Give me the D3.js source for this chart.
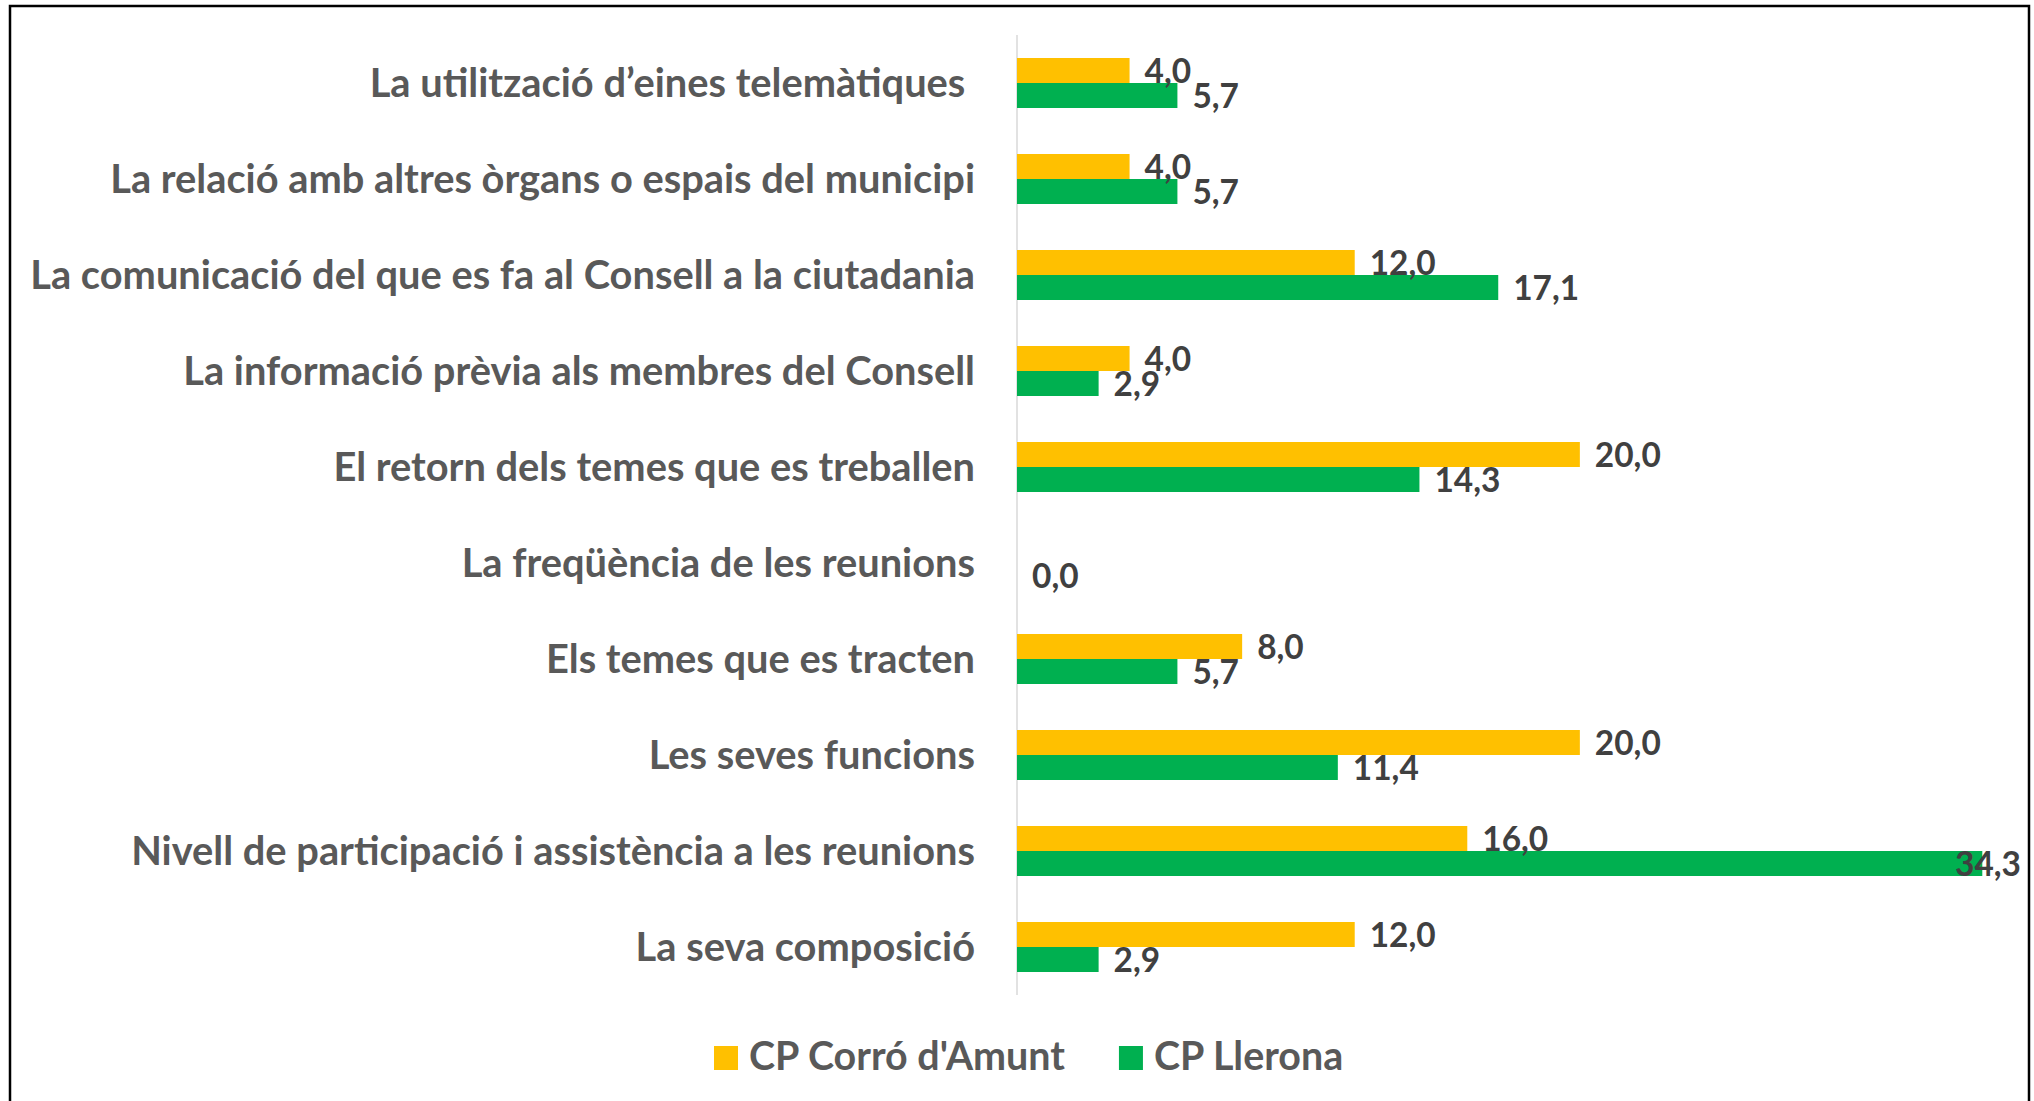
<!DOCTYPE html>
<html>
<head>
<meta charset="utf-8">
<script src="https://cdn.jsdelivr.net/npm/d3@7"></script>
<style>
  html, body { margin: 0; padding: 0; background: #ffffff; }
  svg { display: block; }
  text { font-family: Lato, "Open Sans", sans-serif; font-weight: 700; }
</style>
</head>
<body>
<svg id="chart" width="2034" height="1101"></svg>
<script>
// ---- data ----
const categories = [
  "La utilització d’eines telemàtiques ",
  "La relació amb altres òrgans o espais del municipi",
  "La comunicació del que es fa al Consell a la ciutadania",
  "La informació prèvia als membres del Consell",
  "El retorn dels temes que es treballen",
  "La freqüència de les reunions",
  "Els temes que es tracten",
  "Les seves funcions",
  "Nivell de participació i assistència a les reunions",
  "La seva composició"
];
const seriesNames = ["CP Corró d'Amunt", "CP Llerona"];
const corroAmunt = [4.0, 4.0, 12.0, 4.0, 20.0, null, 8.0, 20.0, 16.0, 12.0];
const llerona    = [5.7, 5.7, 17.1, 2.9, 14.3, 0.0, 5.7, 11.4, 34.3, 2.9];
const seriesColors = ["#FFC000", "#00B050"];

// ---- layout ----
const svg = d3.select("#chart");
const W = 2034, H = 1101;
svg.append("rect").attr("width", W).attr("height", H).attr("fill", "#fff");
svg.append("rect")
  .attr("x", 10).attr("y", 6).attr("width", 2019).attr("height", 1120)
  .attr("fill", "none").attr("stroke", "#000").attr("stroke-width", 2.5);

const x = d3.scaleLinear().domain([0, 35]).range([1017, 2002]);
const y0 = d3.scaleBand().domain(categories).range([35, 995]).paddingInner(0).paddingOuter(0);
const y1 = d3.scaleBand().domain(seriesNames).range([0, y0.bandwidth()]).paddingInner(0).paddingOuter(0.92);

const data = categories.map((c, i) => ({
  cat: c,
  vals: [
    { s: seriesNames[0], v: corroAmunt[i], color: seriesColors[0] },
    { s: seriesNames[1], v: llerona[i], color: seriesColors[1] }
  ]
}));

// helper: fit font-size so a sample text gets a target width
function fitSize(sample, targetW, base) {
  const t = svg.append("text").attr("font-size", base).text(sample);
  const w = t.node().getComputedTextLength();
  t.remove();
  return base * targetW / w;
}
const catSize = fitSize("La comunicació del que es fa al Consell a la ciutadania", 945, 30);
const valSize = fitSize("20,0", 66, 30);
const legSize = fitSize("CP Corró d'Amunt", 316, 30);

// axis line
svg.append("line")
  .attr("x1", x(0)).attr("x2", x(0))
  .attr("y1", y0.range()[0]).attr("y2", y0.range()[1])
  .attr("stroke", "#d9d9d9").attr("stroke-width", 1.5);

// category labels
const yAxis = d3.axisLeft(y0).tickSize(0).tickPadding(0);
const gy = svg.append("g").attr("transform", `translate(975,0)`).call(yAxis);
gy.select(".domain").remove();
gy.selectAll("text")
  .attr("x", 0)
  .attr("dy", "0.36em")
  .attr("text-anchor", "end")
  .attr("fill", "#595959")
  .attr("font-size", catSize)
  .attr("font-family", "Lato, 'Open Sans', sans-serif")
  .attr("font-weight", 700)
  .style("white-space", "pre");

// bars
const groups = svg.append("g").selectAll("g.cat").data(data).join("g")
  .attr("class", "cat")
  .attr("transform", d => `translate(0,${y0(d.cat)})`);

groups.selectAll("rect").data(d => d.vals.filter(v => v.v !== null && v.v > 0)).join("rect")
  .attr("x", x(0))
  .attr("y", d => y1(d.s))
  .attr("width", d => x(d.v) - x(0))
  .attr("height", y1.bandwidth())
  .attr("fill", d => d.color);

// value labels
const rightLimit = 2021;
groups.selectAll("text.val").data(d => d.vals.filter(v => v.v !== null)).join("text")
  .attr("class", "val")
  .attr("font-size", valSize)
  .attr("fill", "#404040")
  .attr("y", d => y1(d.s) + y1.bandwidth() / 2)
  .attr("dy", "0.36em")
  .text(d => d.v.toFixed(1).replace(".", ","))
  .each(function(d) {
    const w = this.getComputedTextLength();
    const px = Math.min(x(d.v) + 15, rightLimit - w);
    d3.select(this).attr("x", px);
  });

// legend
const legend = svg.append("g");
let lx = 714;
seriesNames.forEach((s, i) => {
  legend.append("rect")
    .attr("x", lx).attr("y", 1046).attr("width", 24).attr("height", 24)
    .attr("fill", seriesColors[i]);
  const t = legend.append("text")
    .attr("x", lx + 35).attr("y", 1070)
    .attr("font-size", legSize)
    .attr("fill", "#595959")
    .text(s);
  lx = lx + 35 + t.node().getComputedTextLength() + 54;
});
</script>
</body>
</html>
